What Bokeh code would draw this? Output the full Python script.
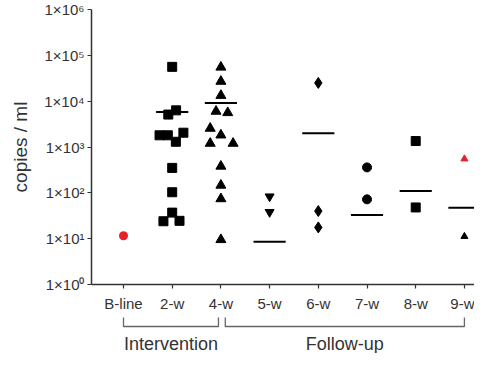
from bokeh.plotting import figure
from bokeh.models import Range1d, FixedTicker
from bokeh.layouts import column
from bokeh.core.properties import value
from bokeh.embed import file_html
from bokeh.resources import INLINE

# ---------------- data ----------------
categories = ["B-line", "2-w", "4-w", "5-w", "6-w", "7-w", "8-w", "9-w"]

bline_vals = [11.6]
w2_vals = [56000, 6300, 5100, 2050, 1800, 1800, 1300, 350, 103, 37, 24.5, 24]
w2_jitter = [0, 0.08, -0.08, 0.23, -0.26, -0.09, 0.075, 0, 0, 0, 0.15, -0.18]
w4_vals = [55000, 27000, 13300, 6000, 5600, 2550, 1820, 1200, 1200, 380, 146, 74, 9.5]
w4_jitter = [0, 0, 0, -0.1, 0.14, -0.22, 0, -0.22, 0.25, 0, 0, 0, 0]
w5_vals = [83, 38]
w6_vals = [25000, 40, 17.6]
w7_vals = [359, 72]
w8_vals = [1350, 48]
w9_vals = [550, 11.2]
w9_colors = ["#e8202a", "black"]

median_cats = ["2-w", "4-w", "5-w", "6-w", "7-w", "8-w", "9-w"]
median_vals = [5800, 9100, 8.6, 2000, 33, 109, 47]

y_ticks = [1, 10, 100, 1000, 10000, 100000, 1000000]
y_tick_labels = ["1×10⁰", "1×10¹", "1×10²", "1×10³", "1×10⁴", "1×10⁵", "1×10⁶"]

groups = ["Intervention", "Follow-up"]
group_first = ["B-line", "4-w"]
group_last = ["4-w", "9-w"]

# ---------------- figure ----------------
FONT = "Liberation Sans"
TXT = "#333333"
idx = {c: i for i, c in enumerate(categories)}

p = figure(width=474, height=316, y_axis_type="log", title=None,
           x_range=Range1d(-0.657, 7.207), y_range=Range1d(1, 1e6),
           output_backend="svg", toolbar_location=None,
           min_border_left=91, min_border_right=0, min_border_top=9,
           min_border_bottom=32)
p.outline_line_color = None
p.grid.visible = False

# axes
p.xaxis.ticker = FixedTicker(ticks=list(range(len(categories))))
p.xaxis.major_label_overrides = {i: c for i, c in enumerate(categories)}
p.yaxis.ticker = FixedTicker(ticks=y_ticks)
p.yaxis.major_label_overrides = {t: l for t, l in zip(y_ticks, y_tick_labels)}
for ax in (p.xaxis, p.yaxis):
    ax.axis_line_color = TXT
    ax.axis_line_width = 1.5
    ax.major_tick_line_color = TXT
    ax.major_tick_line_width = 1.2
    ax.major_tick_out = 4
    ax.major_tick_in = 0
    ax.minor_tick_line_color = None
    ax.major_label_text_font = FONT
    ax.major_label_text_font_size = "15px"
    ax.major_label_text_color = TXT
p.xaxis.major_label_standoff = 6
p.yaxis.major_label_standoff = 3
p.yaxis.axis_label = "copies / ml"
p.yaxis.axis_label_text_font = FONT
p.yaxis.axis_label_text_font_size = "19px"
p.yaxis.axis_label_text_font_style = "normal"
p.yaxis.axis_label_text_color = TXT
p.yaxis.axis_label_standoff = 10

def xs(cat, vals, jitter=None):
    if jitter is None:
        jitter = [0] * len(vals)
    return [idx[cat] + j for j in jitter]

# points
p.scatter(xs("B-line", bline_vals), bline_vals, marker="circle", size=9,
          color="#e8202a", line_color=None)
p.scatter(xs("2-w", w2_vals, w2_jitter), w2_vals, marker="square", size=9,
          color="black")
p.scatter(xs("4-w", w4_vals, w4_jitter), w4_vals, marker="triangle", size=10,
          color="black")
p.scatter(xs("5-w", w5_vals), w5_vals, marker="inverted_triangle", size=9,
          color="black")
p.scatter(xs("6-w", w6_vals), w6_vals, marker="diamond", size=11,
          color="black")
p.scatter(xs("7-w", w7_vals), w7_vals, marker="circle", size=9,
          color="black")
p.scatter(xs("8-w", w8_vals), w8_vals, marker="square", size=9,
          color="black")
p.scatter(xs("9-w", w9_vals), w9_vals, marker="triangle", size=7,
          color=w9_colors, line_color=w9_colors)

# median bars
half = 0.33
mx = [idx[c] for c in median_cats]
p.segment(x0=[m - half for m in mx], x1=[m + half for m in mx],
          y0=median_vals, y1=median_vals, line_color="black", line_width=2)

# ---------------- group brackets ----------------
H2 = 37
p2 = figure(width=474, height=H2, x_range=p.x_range, y_range=Range1d(H2, 0),
            title=None, output_backend="svg", toolbar_location=None,
            x_axis_location=None, y_axis_location=None,
            min_border_left=91, min_border_right=0, min_border_top=0,
            min_border_bottom=0)
p2.outline_line_color = None
p2.grid.visible = False

inset_end = 0.05
inset_start = 0.09
b_xs, b_ys, lx = [], [], []
for k, (g, a, b) in enumerate(zip(groups, group_first, group_last)):
    s = idx[a] + (inset_start if k > 0 else 0)
    e = idx[b] - (inset_end if k == 0 else 0)
    b_xs.append([s, s, e, e])
    b_ys.append([1, 10, 10, 1])
    lx.append((s + e) / 2)
p2.multi_line(b_xs, b_ys, line_color="#666666", line_width=1.3)
p2.text(x=lx, y=[27] * len(groups), text=groups,
        text_font=value(FONT), text_font_size="18px", text_color=TXT,
        text_align="center", text_baseline="alphabetic")

layout = column(p, p2, spacing=0)
open("out.html", "w").write(file_html(layout, INLINE))
